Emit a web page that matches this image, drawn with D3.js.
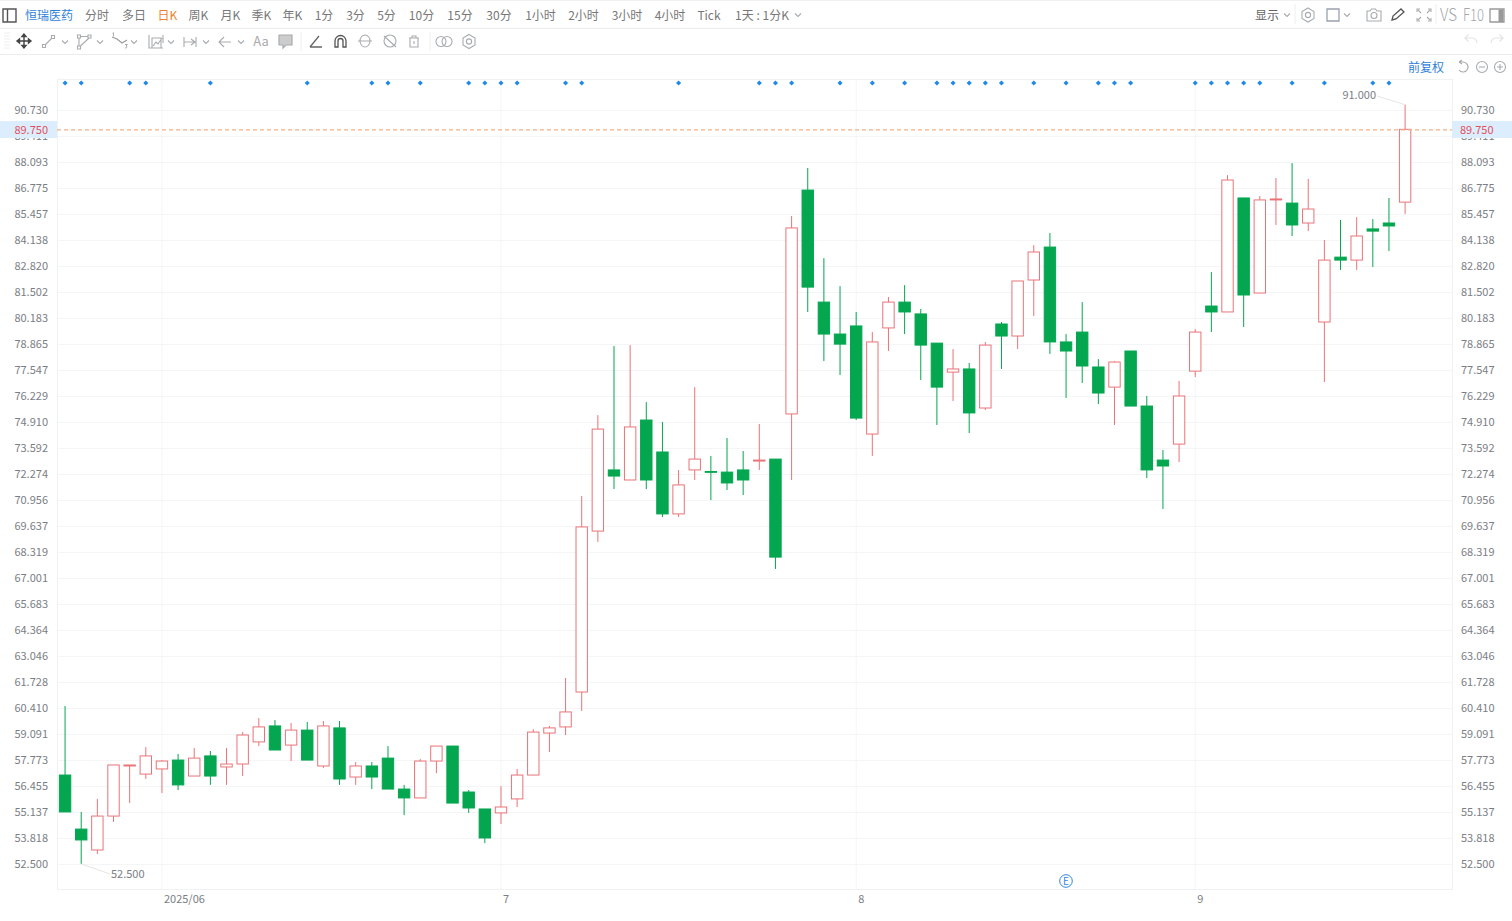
<!DOCTYPE html>
<html><head><meta charset="utf-8">
<script src="https://cdn.jsdelivr.net/npm/d3@7"></script>
<style>
html,body{margin:0;padding:0;background:#fff;overflow:hidden}
svg{display:block;font-family:"Noto Sans CJK SC","Noto Sans",sans-serif}
</style></head><body><svg id="c" width="1512" height="921"></svg>
<script>
const open=[57.01,54.27,53.21,54.93,57.47,57.06,57.32,57.77,56.96,57.98,57.42,57.57,58.69,59.50,58.53,59.29,57.47,59.40,56.91,57.47,57.87,56.30,55.85,57.72,58.48,56.15,55.29,55.09,55.80,57.01,59.14,59.45,61.22,69.38,72.48,71.97,75.01,73.39,70.25,72.48,72.40,72.37,72.48,72.93,73.03,75.32,86.67,80.99,79.37,79.78,74.30,79.68,80.99,80.39,78.91,77.44,77.60,75.62,79.88,79.27,82.11,83.78,78.97,79.47,77.70,76.68,78.51,75.72,72.98,73.79,77.49,80.79,80.49,86.27,81.45,86.17,86.01,85.00,79.98,83.27,83.12,84.70,85.00,86.06];
const high=[60.51,55.14,55.80,57.52,57.52,58.43,57.77,58.08,58.38,58.23,58.38,59.19,59.90,59.80,59.65,59.70,59.75,59.75,57.67,57.67,58.48,56.51,57.82,58.48,58.48,56.25,55.29,56.45,57.32,59.34,59.50,61.93,71.16,75.26,78.76,78.81,75.92,74.91,72.48,76.68,73.19,74.10,73.44,74.81,73.03,85.35,87.79,83.22,81.80,80.49,79.47,81.25,81.85,80.64,78.91,78.61,77.90,78.97,79.98,82.06,83.88,84.49,79.37,80.99,78.10,78.00,78.51,76.23,73.49,76.99,79.62,82.51,87.43,86.27,86.37,87.28,88.04,87.23,84.14,85.15,85.30,85.20,86.27,91.00];
const low=[55.14,52.50,53.01,54.63,55.59,56.81,56.10,56.25,56.96,56.51,56.51,56.96,58.48,58.28,57.72,57.77,57.37,56.51,56.51,56.30,56.30,54.98,55.85,57.11,55.59,55.09,53.56,54.53,55.39,57.01,58.18,59.04,60.26,68.83,71.51,71.97,71.51,70.09,70.09,71.97,70.95,71.46,71.21,72.48,67.46,71.97,80.49,78.00,77.29,75.01,73.19,78.51,79.37,77.04,74.76,75.97,74.35,75.52,77.60,78.61,80.28,78.36,76.13,76.89,75.82,74.76,75.72,72.07,70.50,72.88,77.19,79.47,80.49,79.73,81.45,84.90,84.34,84.59,76.94,82.62,82.62,82.77,83.58,85.46];
const close=[55.14,53.72,54.93,57.52,57.52,57.98,57.72,56.51,57.87,56.96,57.57,59.04,59.45,58.28,59.29,57.77,59.50,56.81,57.47,56.91,56.30,55.85,57.72,58.48,55.59,55.34,53.82,55.39,57.01,59.19,59.40,60.21,69.59,74.55,72.17,74.66,71.97,70.25,71.72,73.03,72.37,71.82,71.97,72.98,68.06,84.75,81.75,79.37,78.86,75.11,78.97,80.99,80.49,78.81,76.68,77.60,75.37,78.81,79.27,82.06,83.53,78.97,78.51,77.75,76.38,77.95,75.72,72.48,72.68,76.23,79.47,80.49,87.18,81.35,86.17,86.22,84.90,85.71,83.12,83.12,84.34,84.59,84.85,89.75];
const priceTicks=[90.730,89.411,88.093,86.775,85.457,84.138,82.820,81.502,80.183,78.865,77.547,76.229,74.910,73.592,72.274,70.956,69.637,68.319,67.001,65.683,64.364,63.046,61.728,60.410,59.091,57.773,56.455,55.137,53.818,52.500];
const timeTickIndex=[6,27,49,70];
const timeTickLabels=["2025/06","7","8","9"];
const markerIndex=[0,1,4,5,9,15,19,20,22,25,26,27,28,31,32,38,43,44,45,48,50,52,54,55,56,57,58,60,62,64,65,66,70,71,72,73,74,76,78,81,82];
const lastPrice=89.75;
const maxPrice={i:83,v:91.0,label:"91.000"};
const minPrice={i:1,v:52.5,label:"52.500"};
const periods=[["恒瑞医药",49,"#2f7fdb"],["分时",97,"#777"],["多日",134,"#777"],["日K",167.5,"#f0802c"],["周K",198.5,"#777"],["月K",230.5,"#777"],["季K",261.5,"#777"],["年K",292.5,"#777"],["1分",324,"#777"],["3分",355.5,"#777"],["5分",386.5,"#777"],["10分",421.5,"#777"],["15分",460,"#777"],["30分",499,"#777"],["1小时",540.5,"#777"],["2小时",583.5,"#777"],["3小时",627,"#777"],["4小时",670,"#777"],["Tick",709,"#777"],["1天 : 1分K",762,"#777"]];

const L=57,R=1452,T=80,B=889;
const svg=d3.select("#c");
const x=d3.scaleBand().domain(d3.range(open.length)).range([L,L+16.145*open.length]);
const y=d3.scaleLinear().domain([52.5,90.73]).range([864,110]);
const cx=i=>x(i)+x.bandwidth()/2;
const UP="#ea7378",DOWN="#04a650",GRID="#f4f5f6",TXT="#7b7e84";

// toolbar rules
svg.append("line").attr("x1",0).attr("x2",1512).attr("y1",0.5).attr("y2",0.5).attr("stroke","#f0f0f0");
[28.5,54.5].forEach(v=>svg.append("line").attr("x1",0).attr("x2",1512).attr("y1",v).attr("y2",v).attr("stroke","#ececec"));

// grid
const g=svg.append("g");
g.selectAll(".h").data(priceTicks).join("line").attr("x1",L).attr("x2",R).attr("y1",d=>Math.round(y(d))+.5).attr("y2",d=>Math.round(y(d))+.5).attr("stroke",GRID);
g.selectAll(".v").data(timeTickIndex).join("line").attr("x1",d=>cx(d)).attr("x2",d=>cx(d)).attr("y1",T).attr("y2",B).attr("stroke",GRID);
g.append("rect").attr("x",L+.5).attr("y",T-.5).attr("width",R-L).attr("height",B-T+1).attr("fill","none").attr("stroke","#f0f1f2");

// axes
function styleAxis(s){s.select(".domain").remove();s.selectAll(".tick line").remove();s.selectAll("text").attr("fill",TXT).style("font-size","11px").style("font-family",'"Noto Sans CJK SC",sans-serif');}
svg.append("g").attr("transform","translate(48,0)").call(d3.axisLeft(y).tickValues(priceTicks).tickFormat(d3.format(".3f")).tickSize(0).tickPadding(0)).call(styleAxis);
svg.append("g").attr("transform","translate(1461,0)").call(d3.axisRight(y).tickValues(priceTicks).tickFormat(d3.format(".3f")).tickSize(0).tickPadding(0)).call(styleAxis);
svg.append("g").attr("transform",`translate(0,${B+6})`).call(d3.axisBottom(x).tickValues(timeTickIndex).tickFormat((d,i)=>timeTickLabels[i]).tickSize(0).tickPadding(0)).call(styleAxis).selectAll("text").attr("text-anchor","start").attr("dx",2);

// last price band
[[0,L],[R,60]].forEach(([a,w])=>svg.append("rect").attr("x",a).attr("y",121).attr("width",w).attr("height",17).attr("fill","#dcedfd"));
svg.append("text").attr("x",48).attr("y",y(lastPrice)+4.6).attr("text-anchor","end").attr("fill","#e2505c").style("font-size","11px").text(d3.format(".3f")(lastPrice));
svg.append("text").attr("x",1460).attr("y",y(lastPrice)+4.6).attr("fill","#e2505c").style("font-size","11px").text(d3.format(".3f")(lastPrice));

// candles
const idx=d3.range(open.length);
const isUp=i=>close[i]>=open[i];
svg.append("g").selectAll("line").data(idx).join("line")
 .attr("x1",cx).attr("x2",cx).attr("y1",i=>y(high[i])).attr("y2",i=>y(low[i]))
 .attr("stroke",i=>isUp(i)?UP:DOWN).attr("stroke-width",1);
svg.append("g").selectAll("rect").data(idx).join("rect")
 .attr("x",i=>cx(i)-5.7).attr("width",11.4)
 .attr("y",i=>y(Math.max(open[i],close[i])))
 .attr("height",i=>Math.max(.8,Math.abs(y(open[i])-y(close[i]))))
 .attr("fill",i=>isUp(i)?"#fff":DOWN)
 .attr("stroke",i=>isUp(i)?UP:DOWN).attr("stroke-width",1);

// price line
svg.append("line").attr("x1",L).attr("x2",R).attr("y1",129.9).attr("y2",129.9).attr("stroke","#f4b184").attr("stroke-width",1.2).attr("stroke-dasharray","4 3");

// extreme labels
svg.append("line").attr("x1",cx(maxPrice.i)).attr("y1",y(maxPrice.v)).attr("x2",1377).attr("y2",96).attr("stroke","#e6e6e6");
svg.append("text").attr("x",1376).attr("y",99).attr("text-anchor","end").attr("fill",TXT).style("font-size","11px").text(maxPrice.label);
svg.append("line").attr("x1",cx(minPrice.i)).attr("y1",y(minPrice.v)).attr("x2",110).attr("y2",874).attr("stroke","#e6e6e6");
svg.append("text").attr("x",111).attr("y",878).attr("fill",TXT).style("font-size","11px").text(minPrice.label);

// markers
svg.append("g").selectAll("path").data(markerIndex).join("path")
 .attr("d",d3.symbol(d3.symbolSquare,13)).attr("transform",i=>`translate(${cx(i)},83) rotate(45)`).attr("fill","#2088e8");

// event marker
svg.append("circle").attr("cx",1066).attr("cy",881).attr("r",6.3).attr("fill","#fff").attr("stroke","#2f86dc");
svg.append("text").attr("x",1066).attr("y",884.5).attr("text-anchor","middle").attr("fill","#2f86dc").style("font-size","10px").text("E");

// top row text
svg.append("g").selectAll("text").data(periods).join("text").attr("x",d=>d[1]).attr("y",19.5).attr("text-anchor","middle").attr("fill",d=>d[2]).style("font-size","12px").text(d=>d[0]);
svg.append("text").attr("x",1267).attr("y",19.5).attr("text-anchor","middle").attr("fill","#666").style("font-size","12px").text("显示");
svg.append("text").attr("x",1426).attr("y",71.5).attr("text-anchor","middle").attr("fill","#2f7fdb").style("font-size","12px").text("前复权");
svg.append("text").attr("x",261).attr("y",46).attr("text-anchor","middle").attr("fill","#aaa").style("font-size","13px").text("Aa");
svg.append("text").attr("x",1440).attr("y",21).attr("fill","#a5a8ad").attr("textLength",17).attr("lengthAdjust","spacingAndGlyphs").style("font-size","17px").style("font-weight","300").text("VS");
svg.append("text").attr("x",1463).attr("y",21).attr("fill","#a5a8ad").attr("textLength",21).attr("lengthAdjust","spacingAndGlyphs").style("font-size","17px").style("font-weight","300").text("F10");

// icons
const ic=svg.append("g").attr("fill","none").attr("stroke","#a8abb0").attr("stroke-width",1.1);
const chev=(cx0,cy0,c="#a8abb0")=>ic.append("path").attr("d",`M${cx0-3},${cy0-1.5}L${cx0},${cy0+1.5}L${cx0+3},${cy0-1.5}`).attr("stroke",c);
[798,1287,1347].forEach(v=>chev(v,15));
[65,100,134,171,206,241].forEach(v=>chev(v,42));
const P=(d,c,w)=>{const p=ic.append("path").attr("d",d);if(c)p.attr("stroke",c);if(w)p.attr("stroke-width",w);return p;};
P("M3,9H16V22H3ZM7.5,9V22","#555",1.4);
[301,430].forEach(v=>svg.append("line").attr("x1",v).attr("x2",v).attr("y1",32).attr("y2",51).attr("stroke","#eee"));
svg.append("line").attr("x1",1436).attr("x2",1436).attr("y1",4).attr("y2",24).attr("stroke","#eee");
svg.append("line").attr("x1",1295).attr("x2",1295).attr("y1",4).attr("y2",24).attr("stroke","#eee");
// grip
for(let r=0;r<6;r++)svg.append("line").attr("x1",4).attr("x2",10).attr("y1",33+r*3).attr("y2",33+r*3).attr("stroke","#eee");
P("M24,34V48M17,41H31M24,34l-2,2.5h4ZM24,48l-2,-2.5h4ZM17,41l2.5,-2v4ZM31,41l-2.5,-2v4Z","#444",1.4);
P("M42.5,44.5h3v3h-3ZM51.5,35.5h3v3h-3ZM45.5,44.5L51.5,38.5");
P("M77.5,35h3v3h-3ZM88,35h3v3h-3ZM77.5,46h3v3h-3ZM80.5,36.5H88M89,38L80,46.5M79,38V46");
P("M112,37l5,2l5,4l5,-3","#999");P("M112.5,33.5l1,-.8v3.5M125,44.5h2.5l-1.5,1.5a1,1 0 1 1 -1,1.5","#999",.8);
P("M149,35V48H163M152,48V38h9V48M153,46l3,-4l2,2l4,-6M163,35v8","#a8abb0");
P("M184,37V47M184,42H196M196,37V47M191,39l4,3l-4,3","#a8abb0");
P("M231,42H219M224,37l-5,5l5,5");
P("M279,35h13v10h-6l-3,3v-3h-4Z","#a8abb0",1.2).attr("fill","#ccc");
P("M310,47H322M310,47L319,36","#666",1.3);
P("M335,47V41a5.5,5.5 0 0 1 11,0V47h-3V41a2.5,2.5 0 0 0 -5,0V47Z","#555",1.3);
P("M358,41h14M360,41a5,6 0 0 1 10,0M360,41a5,6 0 0 0 10,0");
ic.append("circle").attr("cx",390).attr("cy",41).attr("r",6); P("M384,36L396,47");
P("M409,38h10M412,38v-2h4v2M410,38v9h8v-9M414,41v3");
ic.append("circle").attr("cx",441).attr("cy",41.5).attr("r",5);ic.append("circle").attr("cx",447).attr("cy",41.5).attr("r",5);
const gear=(a,b)=>{P(`M${a},${b-7}l6,3.5v7l-6,3.5l-6,-3.5v-7Z`);ic.append("circle").attr("cx",a).attr("cy",b).attr("r",2.6);};
gear(469,41.5);gear(1308,15);
P("M1327,9h12v12h-12Z","#9aa0ad",1.3);
P("M1367,11h3l1.5,-2h4l1.5,2h4v10h-14Z");ic.append("circle").attr("cx",1374).attr("cy",15.5).attr("r",3);
P("M1392,20l1,-4l8,-7l3,3l-8,7Z","#555",1.3);
P("M1417,12V9h3M1428,9h3v3M1417,18v3h3M1431,18v3h-3M1418,10l3,3M1430,10l-3,3M1418,20l3,-3M1430,20l-3,-3");
P("M1490,9h14v13h-14Z","#999",1.3);svg.append("rect").attr("x",1498.5).attr("y",9.5).attr("width",5).attr("height",12.5).attr("fill","#999");
P("M1477,43a5,5 0 0 0 -5,-5h-7m3.5,-3.5l-3.5,3.5l3.5,3.5","#e3e3e3");P("M1491,43a5,5 0 0 1 5,-5h7m-3.5,-3.5l3.5,3.5l-3.5,3.5","#e3e3e3");
P("M1459,62h4a5,5 0 1 1 -4,8M1459,62l3,-2M1459,62l3,2","#aaa");
ic.append("circle").attr("cx",1482).attr("cy",67).attr("r",5.5);P("M1479,67h6");
ic.append("circle").attr("cx",1500).attr("cy",67).attr("r",5.5);P("M1497,67h6M1500,64v6");
</script></body></html>
